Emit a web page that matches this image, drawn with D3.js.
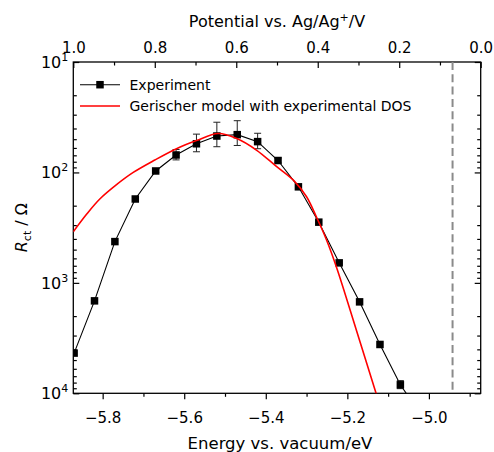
<!DOCTYPE html>
<html>
<head>
<meta charset="utf-8">
<script src="https://cdnjs.cloudflare.com/ajax/libs/d3/7.8.5/d3.min.js"></script>
<style>
  body { margin: 0; background: #fff; }
  svg { display: block; font-family: "DejaVu Sans", "Liberation Sans", Arial, sans-serif; }
</style>
</head>
<body>
<svg></svg>
<script>
// experiment: energy (eV vs vacuum) and R_ct (ohm)
let energy = [-5.87, -5.82, -5.77, -5.72, -5.67, -5.62, -5.57, -5.52, -5.47,
  -5.42, -5.37, -5.32, -5.27, -5.22, -5.17, -5.12, -5.07, -5.02]
let rct = [4325, 1455, 423, 174, 97, 69.5, 55, 46.8, 45.5,
  52.6, 78, 135, 282, 659, 1486, 3613, 8375, 15500]
let rctErr = [0, 0, 0, 0, 3, 7.5, 10, 11.7, 11.5,
  8.4, 4, 0, 0, 0, 0, 0, 700, 0]

// Gerischer model curve
let modelEnergy = [-5.872, -5.839, -5.807, -5.766, -5.725, -5.672, -5.619, -5.570, -5.517,
  -5.471, -5.423, -5.374, -5.329, -5.300, -5.276, -5.251, -5.226, -5.178, -5.129]
let modelRct = [344, 238, 174, 129, 100, 77.2, 61, 51.5, 44.4,
  49.3, 62.7, 88.3, 121, 166, 252, 409, 733, 2670, 10150]

let dosEdge = -4.942

let bottomTicks = [-5.8, -5.6, -5.4, -5.2, -5.0]
let bottomMinor = [-5.7, -5.5, -5.3, -5.1, -4.9]
let topTicks = [1.0, 0.8, 0.6, 0.4, 0.2, 0.0]
let topMinor = [0.9, 0.7, 0.5, 0.3, 0.1]
let yTicks = [10, 100, 1000, 10000]
let yTickExp = ['1', '2', '3', '4']

let legendNames = ['Experiment', 'Gerischer model with experimental DOS']

let width = 494
let height = 452
let padLeft = 73.3
let padRight = 480.7
let padTop = 62
let padBottom = 393.3

let svg = d3.select('svg')
  .attr('width', width)
  .attr('height', height)

let xScale = d3.scaleLinear()
  .domain([-5.872, -4.873])
  .range([padLeft, padRight])

let vScale = d3.scaleLinear()
  .domain([1.0, 0.0])
  .range([padLeft, padRight])

let yScale = d3.scaleLog()
  .domain([10, 10000])
  .range([padTop, padBottom])

let yMinor = yScale.ticks().filter(d => !yTicks.includes(d))

let styleAxis = (g) => {
  g.attr('font-family', null).attr('font-size', null)
  g.selectAll('line').attr('stroke', '#000').attr('stroke-width', 1.2)
  g.selectAll('text').attr('fill', '#000').style('font-size', '15px')
  g.select('.domain').remove()
}

let drawAxes = () => {
  // bottom
  svg.append('g')
    .attr('transform', 'translate(0,' + padBottom + ')')
    .call(d3.axisBottom(xScale).tickValues(bottomTicks).tickSizeInner(6).tickSizeOuter(0)
      .tickPadding(13).tickFormat(d3.format('.1f')))
    .call(styleAxis)
  svg.append('g')
    .attr('transform', 'translate(0,' + padBottom + ')')
    .call(d3.axisBottom(xScale).tickValues(bottomMinor).tickSize(3.5).tickFormat(''))
    .call(styleAxis)

  // top
  svg.append('g')
    .attr('transform', 'translate(0,' + padTop + ')')
    .call(d3.axisTop(vScale).tickValues(topTicks).tickSizeInner(-6).tickSizeOuter(0)
      .tickPadding(9).tickFormat(d3.format('.1f')))
    .call(styleAxis)
  svg.append('g')
    .attr('transform', 'translate(0,' + padTop + ')')
    .call(d3.axisTop(vScale).tickValues(topMinor).tickSize(-3.5).tickFormat(''))
    .call(styleAxis)

  // left and right, ticks inward
  svg.append('g')
    .attr('transform', 'translate(' + padLeft + ',0)')
    .call(d3.axisLeft(yScale).tickValues(yTicks).tickSize(-6).tickFormat(''))
    .call(styleAxis)
  svg.append('g')
    .attr('transform', 'translate(' + padLeft + ',0)')
    .call(d3.axisLeft(yScale).tickValues(yMinor).tickSize(-3.5).tickFormat(''))
    .call(styleAxis)
  svg.append('g')
    .attr('transform', 'translate(' + padRight + ',0)')
    .call(d3.axisRight(yScale).tickValues(yTicks).tickSize(-6).tickFormat(''))
    .call(styleAxis)
  svg.append('g')
    .attr('transform', 'translate(' + padRight + ',0)')
    .call(d3.axisRight(yScale).tickValues(yMinor).tickSize(-3.5).tickFormat(''))
    .call(styleAxis)

  // frame
  svg.append('rect')
    .attr('x', padLeft)
    .attr('y', padTop)
    .attr('width', padRight - padLeft)
    .attr('height', padBottom - padTop)
    .attr('fill', 'none')
    .attr('stroke', '#000')
    .attr('stroke-width', 1.3)

  // y tick labels 10^n
  svg.append('g')
    .selectAll('text')
    .data(yTicks)
    .enter()
    .append('text')
    .attr('x', padLeft - 5)
    .attr('y', d => yScale(d) + 6)
    .attr('text-anchor', 'end')
    .style('font-size', '16px')
    .each(function (d, i) {
      let t = d3.select(this)
      t.append('tspan').text('10')
      t.append('tspan').attr('dy', -7).style('font-size', '11px').text(yTickExp[i])
    })

  // titles
  let topTitle = svg.append('text')
    .attr('x', (padLeft + padRight) / 2)
    .attr('y', 27)
    .attr('text-anchor', 'middle')
    .style('font-size', '16px')
  topTitle.append('tspan').text('Potential vs. Ag/Ag')
  topTitle.append('tspan').attr('dy', -6).style('font-size', '11px').text('+')
  topTitle.append('tspan').attr('dy', 6).text('/V')

  svg.append('text')
    .attr('x', (padLeft + padRight) / 2 + 3)
    .attr('y', 449)
    .attr('text-anchor', 'middle')
    .style('font-size', '16.5px')
    .text('Energy vs. vacuum/eV')

  let yTitle = svg.append('text')
    .attr('transform', 'translate(27,' + ((padTop + padBottom) / 2) + ') rotate(-90)')
    .attr('text-anchor', 'middle')
    .style('font-size', '16px')
  yTitle.append('tspan').style('font-style', 'italic').text('R')
  yTitle.append('tspan').attr('dy', 4).style('font-size', '11px').text('ct')
  yTitle.append('tspan').attr('dy', -4).text(' / Ω')
}

let drawData = () => {
  svg.append('clipPath')
    .attr('id', 'plot-clip')
    .append('rect')
    .attr('x', padLeft)
    .attr('y', padTop)
    .attr('width', padRight - padLeft)
    .attr('height', padBottom - padTop)

  let plot = svg.append('g').attr('clip-path', 'url(#plot-clip)')

  plot.append('line')
    .attr('x1', xScale(dosEdge))
    .attr('x2', xScale(dosEdge))
    .attr('y1', padTop)
    .attr('y2', padBottom)
    .attr('stroke', '#8a8a8a')
    .attr('stroke-width', 2)
    .attr('stroke-dasharray', '8,4.3')

  let points = energy.map((e, i) => ({ e: e, r: rct[i], err: rctErr[i] }))

  let expLine = d3.line()
    .x(d => xScale(d.e))
    .y(d => yScale(d.r))

  plot.append('path')
    .datum(points)
    .attr('d', expLine)
    .attr('fill', 'none')
    .attr('stroke', '#000')
    .attr('stroke-width', 1.1)

  let bars = plot.selectAll('.err')
    .data(points.filter(d => d.err > 0))
    .enter()
    .append('g')
    .attr('class', 'err')
    .attr('stroke', '#222')
    .attr('stroke-width', 1)

  bars.append('line')
    .attr('x1', d => xScale(d.e))
    .attr('x2', d => xScale(d.e))
    .attr('y1', d => yScale(d.r - d.err))
    .attr('y2', d => yScale(d.r + d.err))
  bars.append('line')
    .attr('x1', d => xScale(d.e) - 3.5)
    .attr('x2', d => xScale(d.e) + 3.5)
    .attr('y1', d => yScale(d.r - d.err))
    .attr('y2', d => yScale(d.r - d.err))
  bars.append('line')
    .attr('x1', d => xScale(d.e) - 3.5)
    .attr('x2', d => xScale(d.e) + 3.5)
    .attr('y1', d => yScale(d.r + d.err))
    .attr('y2', d => yScale(d.r + d.err))

  plot.selectAll('.marker')
    .data(points)
    .enter()
    .append('rect')
    .attr('class', 'marker')
    .attr('x', d => xScale(d.e) - 3.75)
    .attr('y', d => yScale(d.r) - 3.75)
    .attr('width', 7.5)
    .attr('height', 7.5)
    .attr('fill', '#000')

  let modelLine = d3.line()
    .x(d => xScale(d[0]))
    .y(d => yScale(d[1]))
    .curve(d3.curveCatmullRom.alpha(0.5))

  plot.append('path')
    .datum(modelEnergy.map((e, i) => [e, modelRct[i]]))
    .attr('d', modelLine)
    .attr('fill', 'none')
    .attr('stroke', '#ff0000')
    .attr('stroke-width', 1.6)
}

let drawLegend = () => {
  let legend = svg.append('g')

  legend.append('line')
    .attr('x1', 80).attr('x2', 120)
    .attr('y1', 84.7).attr('y2', 84.7)
    .attr('stroke', '#000')
    .attr('stroke-width', 1.1)
  legend.append('rect')
    .attr('x', 100 - 3.75).attr('y', 84.7 - 3.75)
    .attr('width', 7.5).attr('height', 7.5)
    .attr('fill', '#000')
  legend.append('line')
    .attr('x1', 80).attr('x2', 120)
    .attr('y1', 106).attr('y2', 106)
    .attr('stroke', '#ff0000')
    .attr('stroke-width', 1.6)

  legend.selectAll('text')
    .data(legendNames)
    .enter()
    .append('text')
    .attr('x', 129.5)
    .attr('y', (d, i) => 89.6 + i * 21.3)
    .style('font-size', '14px')
    .text(d => d)
}

drawAxes()
drawData()
drawLegend()
</script>
</body>
</html>
